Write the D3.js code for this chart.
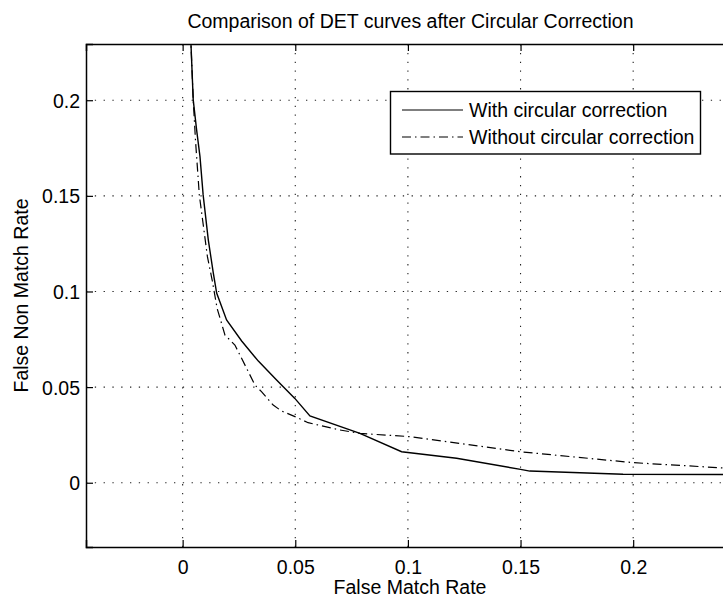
<!DOCTYPE html>
<html><head><meta charset="utf-8">
<script src="https://cdn.jsdelivr.net/npm/d3@7"></script>
<style>
body{margin:0;background:#fff;}
text{font-family:"Liberation Sans",Arial,Helvetica,sans-serif;fill:#000;}
</style></head>
<body><svg id="c" width="723" height="601"></svg>
<script>
const title = "Comparison of DET curves after Circular Correction";
const xLabel = "False Match Rate";
const yLabel = "False Non Match Rate";
const seriesNames = ["With circular correction", "Without circular correction"];
const xTicks = [0, 0.05, 0.1, 0.15, 0.2];
const yTicks = [0, 0.05, 0.1, 0.15, 0.2];
const xTickLabels = ["0", "0.05", "0.1", "0.15", "0.2"];
const yTickLabels = ["0", "0.05", "0.1", "0.15", "0.2"];
const withFMR = [0.0035, 0.0047, 0.0062, 0.0077, 0.0091, 0.0114, 0.0136, 0.0151, 0.0195, 0.0262, 0.0336, 0.0417, 0.0498, 0.0565, 0.0787, 0.0972, 0.1216, 0.1500, 0.1541, 0.1955, 0.2450];
const withFNMR = [0.235, 0.2002, 0.1845, 0.1705, 0.1505, 0.1269, 0.1097, 0.0992, 0.0851, 0.0741, 0.0636, 0.0537, 0.0441, 0.0349, 0.0258, 0.0162, 0.0128, 0.0070, 0.0061, 0.0044, 0.0043];
const withoutFMR = [0.0035, 0.0047, 0.0057, 0.0074, 0.0110, 0.0131, 0.0153, 0.0177, 0.0188, 0.0232, 0.0284, 0.0321, 0.0350, 0.0402, 0.0439, 0.0506, 0.0557, 0.0698, 0.0787, 0.1009, 0.1500, 0.2000, 0.2450];
const withoutFNMR = [0.235, 0.2002, 0.1791, 0.1505, 0.1182, 0.1060, 0.0912, 0.0816, 0.0772, 0.0720, 0.0598, 0.0511, 0.0476, 0.0406, 0.0375, 0.0342, 0.0314, 0.0276, 0.0258, 0.0241, 0.0162, 0.0105, 0.0074];
const xDomain = [-0.0429, 0.2452];
const yDomain = [-0.0336, 0.2294];

const L = 86, R = 735, T = 44, B = 547;
const svg = d3.select("#c");
const x = d3.scaleLinear().domain(xDomain).range([L, R]);
const y = d3.scaleLinear().domain(yDomain).range([B, T]);
const FS = 19.5;

svg.append("defs").append("clipPath").attr("id","clip")
  .append("rect").attr("x",L).attr("y",T).attr("width",R-L).attr("height",B-T);

// grid
const grid = svg.append("g").attr("stroke","#222").attr("stroke-width",1.1).attr("stroke-dasharray","1.3,7.5");
grid.selectAll("line.v").data(xTicks).join("line")
  .attr("x1",d=>x(d)).attr("x2",d=>x(d)).attr("y1",B).attr("y2",T);
grid.selectAll("line.h").data(yTicks).join("line")
  .attr("y1",d=>y(d)).attr("y2",d=>y(d)).attr("x1",L).attr("x2",R);

// axes
const ax = svg.append("g").attr("transform",`translate(0,${B})`)
  .call(d3.axisBottom(x).tickValues(xTicks).tickSize(-7).tickPadding(13).tickFormat((d,i)=>xTickLabels[i]));
const axT = svg.append("g").attr("transform",`translate(0,${T})`)
  .call(d3.axisTop(x).tickValues(xTicks).tickSize(-7).tickFormat(""));
const ay = svg.append("g").attr("transform",`translate(${L},0)`)
  .call(d3.axisLeft(y).tickValues(yTicks).tickSize(-7).tickPadding(13).tickFormat((d,i)=>yTickLabels[i]));
[ax,axT,ay].forEach(g=>{
  g.select(".domain").attr("stroke","#000").attr("stroke-width",1.5);
  g.selectAll(".tick line").attr("stroke","#000").attr("stroke-width",1.2);
  g.selectAll("text").attr("font-size",FS).attr("font-family",'"Liberation Sans",Arial,sans-serif').attr("fill","#000");
});
ay.selectAll(".tick text").attr("x",-6).attr("dy","0.36em");
ax.selectAll(".tick text").attr("dy","0.72em");

// lines
const line = d3.line().x(d=>x(d[0])).y(d=>y(d[1]));
const g = svg.append("g").attr("clip-path","url(#clip)");
const s1 = withFMR.map((v,i)=>[v,withFNMR[i]]);
const s2 = withoutFMR.map((v,i)=>[v,withoutFNMR[i]]);
g.append("path").datum(s2).attr("d",line).attr("fill","none").attr("stroke","#000")
  .attr("stroke-width",1.2).attr("stroke-dasharray","9,4,1.5,4");
g.append("path").datum(s1).attr("d",line).attr("fill","none").attr("stroke","#000")
  .attr("stroke-width",1.4);

// title and labels
svg.append("text").attr("x",410.5).attr("y",28).attr("text-anchor","middle").attr("font-size",FS).text(title);
svg.append("text").attr("x",410).attr("y",594).attr("text-anchor","middle").attr("font-size",FS).text(xLabel);
svg.append("text").attr("transform",`translate(28,${(T+B)/2}) rotate(-90)`).attr("text-anchor","middle").attr("font-size",FS).text(yLabel);

// legend
const lg = svg.append("g");
lg.append("rect").attr("x",390.5).attr("y",91.5).attr("width",310).attr("height",62.5)
  .attr("fill","#fff").attr("stroke","#000").attr("stroke-width",1.4);
const rows = [110, 137];
const dashes = [null, "9,4,1.5,4"];
seriesNames.forEach((n,i)=>{
  lg.append("line").attr("x1",402).attr("x2",463).attr("y1",rows[i]).attr("y2",rows[i])
    .attr("stroke","#000").attr("stroke-width",1.2).attr("stroke-dasharray",dashes[i]);
  lg.append("text").attr("x",469).attr("y",rows[i]+6.5).attr("font-size",FS).text(n);
});
</script></body></html>
